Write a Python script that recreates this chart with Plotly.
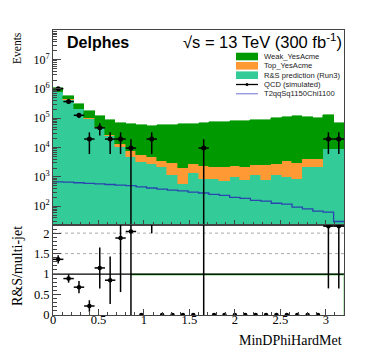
import numpy as np
import plotly.graph_objects as go
from plotly.subplots import make_subplots

# binning of MinDPhiHardMet
n_bins = 28
x_lo, x_hi = 0.0, 3.2

# stacked backgrounds (events per bin)
weak_yesacme = [2.5e5, 1.1e5, 8.7e4, 7.5e4, 6.6e4, 5.75e4, 5.4e4, 5.4e4, 5.3e4, 5.0e4,
                5.4e4, 5.7e4, 6.1e4, 6.2e4, 6.7e4, 7.2e4, 7.2e4, 8.1e4, 8.1e4, 8.65e4,
                8.65e4, 9.7e4, 1.04e5, 1.12e5, 1.03e5, 1.0e5, 1.23e5, 5.9e4]
top_yesacme = [2.0e4, 1.2e4, 8.0e3, 1.0e4, 6.0e3, 3.0e3, 3.0e3, 2.7e3, 2.3e3, 1.9e3,
               1.35e3, 1.75e3, 1.4e3, 1.4e3, 1.4e3, 1.3e3, 1.4e3, 1.4e3, 1.35e3, 1.3e3,
               1.7e3, 1.55e3, 2.4e3, 2.1e3, 2.0e3, 2.0e3, 0, 0]
rs_prediction = [7.8e5, 4.3e5, 2.0e5, 9.3e4, 4.5e4, 2.45e4, 1.02e4, 4.7e3, 3.2e3, 2.8e3,
                 2.2e3, 1.2e3, 590, 1.35e3, 870, 870, 710, 1.0e3, 790, 1.2e3,
                 790, 1.2e3, 1.0e3, 870, 2.15e3, 2.15e3, 8.9e3, 8.9e3]

# signal
t2qq_signal = [676, 661, 631, 603, 575, 550, 525, 501, 457, 417, 380, 355, 331, 302,
               282, 251, 234, 200, 186, 158, 148, 126, 117, 93, 81, 68, 63, 30]

# QCD simulated (0 = empty bin)
qcd_sim = [1.02e6, 3.7e5, 1.26e5, 1.95e4, 4.7e4, 1.95e4, 1.95e4, 9.6e3, 0, 1.95e4,
           0, 0, 0, 0, 9.6e3, 0, 0, 0, 0, 0,
           0, 0, 0, 0, 0, 0, 1.95e4, 1.95e4]
qcd_err = [6e4, 4e4, 2.5e4, 1.35e4, 2.1e4, 1.35e4, 1.35e4, 9.7e3, 0, 1.35e4,
           0, 0, 0, 0, 9.7e3, 0, 0, 0, 0, 0,
           0, 0, 0, 0, 0, 0, 1.35e4, 1.35e4]

# ratio panel
ratio = [1.36, 0.89, 0.68, 0.22, 1.15, 0.85, 1.88, 2.04, 0, 6.7,
         0, 0, 0, 0, 11.0, 0, 0, 0, 0, 0,
         0, 0, 0, 0, 0, 0, 2.17, 2.17]
ratio_err = [0.10, 0.10, 0.15, 0.14, 0.50, 0.58, 1.32, 2.1, 0, 4.7,
             0, 0, 0, 0, 11.1, 0, 0, 0, 0, 0,
             0, 0, 0, 0, 0, 0, 1.52, 1.52]

edges = np.linspace(x_lo, x_hi, n_bins + 1)
bw = edges[1] - edges[0]
centers = edges[:-1] + bw / 2

GREEN = "#009900"
ORANGE = "#ff9933"
TEAL = "#33cc99"
BLUE = "#2a44b0"

fig = make_subplots(rows=2, cols=1, shared_xaxes=True, vertical_spacing=0,
                    row_heights=[0.684, 0.316])

for vals, col in [(rs_prediction, TEAL), (top_yesacme, ORANGE), (weak_yesacme, GREEN)]:
    fig.add_trace(go.Bar(x=centers, y=vals, width=bw, marker=dict(color=col, line=dict(color=col, width=0.6)),
                         showlegend=False), row=1, col=1)

fig.add_trace(go.Scatter(x=edges, y=list(t2qq_signal) + [t2qq_signal[-1]], mode="lines",
                         line=dict(color=BLUE, width=1.3, shape="hv"), showlegend=False), row=1, col=1)

qcd = np.array(qcd_sim)
qe = np.array(qcd_err)
m = qcd > 0
fig.add_trace(go.Scatter(x=centers[m], y=qcd[m], mode="markers",
                         marker=dict(color="black", size=5),
                         error_x=dict(type="constant", value=bw / 2, width=0, thickness=1.5, color="black"),
                         error_y=dict(type="data", array=qe[m], width=0, thickness=1.5, color="black"),
                         showlegend=False), row=1, col=1)

r = np.array(ratio)
re = np.array(ratio_err)
xe = np.where(r > 0, bw / 2, 0)
fig.add_trace(go.Scatter(x=centers, y=r, mode="markers",
                         marker=dict(color="black", size=4.5),
                         error_x=dict(type="data", array=xe, width=0, thickness=1.5, color="black"),
                         error_y=dict(type="data", array=re, width=0, thickness=1.5, color="black"),
                         showlegend=False), row=2, col=1)

# ratio reference lines
fig.add_shape(type="line", xref="x2", yref="y2", x0=x_lo, x1=x_hi, y0=1.5, y1=1.5,
              line=dict(color="#aaaaaa", width=1, dash="dot"), layer="below")
fig.add_shape(type="line", xref="x2", yref="y2", x0=x_lo, x1=x_hi, y0=2.0, y1=2.0,
              line=dict(color="#aaaaaa", width=1, dash="dot"), layer="below")
fig.add_shape(type="line", xref="x2", yref="y2", x0=centers[7], x1=x_hi, y0=0.99, y1=0.99,
              line=dict(color=GREEN, width=1.5), layer="below")
fig.add_shape(type="line", xref="x2", yref="y2", x0=x_hi - 0.005, x1=x_hi - 0.005, y0=0, y1=1,
              line=dict(color="#b8e8b8", width=1), layer="below")
fig.add_shape(type="line", xref="x2", yref="y2", x0=x_lo, x1=x_hi, y0=1, y1=1,
              line=dict(color="black", width=1.2), layer="below")

serif = "Liberation Serif"
sans = "Liberation Sans"
frame = "#444444"

minor_log = [k * 10 ** e for e in range(1, 8) for k in range(2, 10)]
fig.update_yaxes(type="log", range=[1.36, 8.01], row=1, col=1,
                 tickvals=[10 ** e for e in range(2, 8)],
                 ticktext=["10<sup>%d</sup>" % e for e in range(2, 8)],
                 ticks="inside", ticklen=8, tickcolor=frame,
                 minor=dict(tickvals=minor_log, ticks="inside", ticklen=4, tickcolor=frame, showgrid=False),
                 showgrid=False, showline=True, mirror=True, linecolor=frame, linewidth=1,
                 tickfont=dict(family=serif, size=12, color="black"), zeroline=False)
fig.update_yaxes(range=[0, 2.2], row=2, col=1,
                 tickvals=[0, 0.5, 1, 1.5, 2], ticktext=["0", "0.5", "1", "1.5", "2"],
                 ticks="inside", ticklen=8, tickcolor=frame,
                 minor=dict(dtick=0.1, ticks="inside", ticklen=4, tickcolor=frame, showgrid=False),
                 showgrid=False, showline=True, mirror=True, linecolor=frame, linewidth=1,
                 tickfont=dict(family=serif, size=12.5, color="black"), zeroline=False)
for rr, lab, tl in [(1, False, 5), (2, True, 6)]:
    fig.update_xaxes(range=[x_lo, x_hi], row=rr, col=1,
                     tickvals=[0, 0.5, 1, 1.5, 2, 2.5, 3], ticktext=["0", "0.5", "1", "1.5", "2", "2.5", "3"],
                     ticks="inside", ticklen=tl, tickcolor=frame, showticklabels=lab,
                     minor=dict(dtick=0.1, tick0=0, ticks="inside", ticklen=3, tickcolor=frame, showgrid=False),
                     showgrid=False, showline=True, mirror=True, linecolor=frame, linewidth=1,
                     tickfont=dict(family=serif, size=12.5, color="black"), zeroline=False)
fig.update_xaxes(ticklabelstandoff=-7, row=2, col=1)


# pixel -> paper helpers for the hand-made legend / labels
L, R, T, B = 45, 336, 22, 307
def px(x):
    return (x - L) / (R - L)
def py(y):
    return (B - y) / (B - T)

ann = []
ann.append(dict(text="<b>Delphes</b>", x=px(57), y=py(34), xanchor="left", yanchor="middle",
                font=dict(family=sans, size=16, color="black")))
ann.append(dict(text="\u221as = 13 TeV (300 fb<sup>-1</sup>)", x=px(336), y=py(33), xanchor="right",
                yanchor="middle", font=dict(family=sans, size=16.5, color="black")))
ann.append(dict(text="Events", x=px(9), y=py(22), xanchor="center", yanchor="top", textangle=-90,
                font=dict(family=serif, size=11.5, color="black")))
ann.append(dict(text="R&amp;S/multi-jet", x=px(9), y=py(258), xanchor="center", yanchor="middle",
                textangle=-90, font=dict(family=serif, size=14, color="black")))
ann.append(dict(text="MinDPhiHardMet", x=px(336), y=py(332), xanchor="right", yanchor="middle",
                font=dict(family=serif, size=14, color="black")))

shapes = []
legend_rows = [("Weak_YesAcme", "box", GREEN, 48.5),
               ("Top_YesAcme", "box", ORANGE, 57.8),
               ("R&amp;S prediction (Run3)", "box", TEAL, 67.2),
               ("QCD (simulated)", "qcd", "black", 76.5),
               ("T2qqSq1150Chi1100", "line", BLUE, 85.8)]
for text, kind, col, yc in legend_rows:
    if kind == "box":
        shapes.append(dict(type="rect", xref="paper", yref="paper", x0=px(228), x1=px(250),
                           y0=py(yc + 3.8), y1=py(yc - 3.8), fillcolor=col, line=dict(width=0)))
    elif kind == "qcd":
        shapes.append(dict(type="line", xref="paper", yref="paper", x0=px(228), x1=px(250),
                           y0=py(yc), y1=py(yc), line=dict(color="black", width=1.3)))
        shapes.append(dict(type="circle", xref="paper", yref="paper", x0=px(237.5), x1=px(240.5),
                           y0=py(yc + 1.5), y1=py(yc - 1.5), fillcolor="black", line=dict(width=0)))
    else:
        shapes.append(dict(type="line", xref="paper", yref="paper", x0=px(228), x1=px(250),
                           y0=py(yc), y1=py(yc), line=dict(color="#6f6fd8", width=1)))
    ann.append(dict(text=text, x=px(254), y=py(yc), xanchor="left", yanchor="middle",
                    font=dict(family=sans, size=7.6, color="#222222")))

for a in ann:
    a.update(xref="paper", yref="paper", showarrow=False)

fig.update_layout(width=374, height=363, margin=dict(l=L, r=374 - R, t=T, b=363 - B),
                  paper_bgcolor="white", plot_bgcolor="white", barmode="stack", bargap=0,
                  showlegend=False, annotations=ann)
for s in shapes:
    fig.add_shape(**s)

fig.write_html("out.html")
